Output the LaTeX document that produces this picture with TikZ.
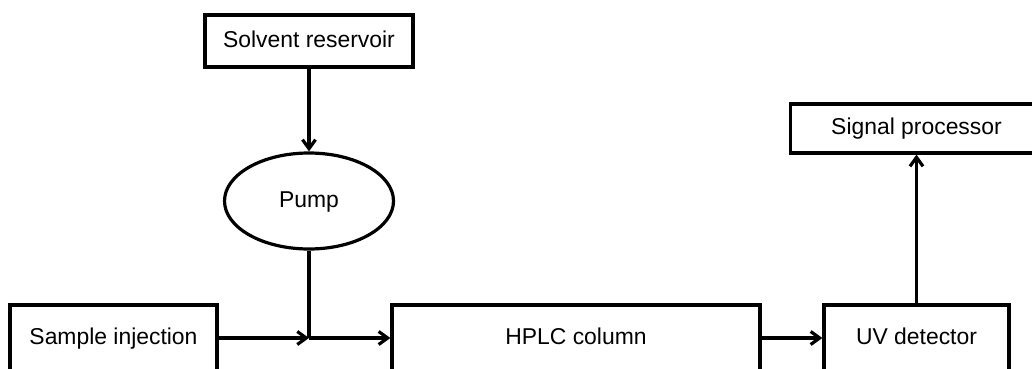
\documentclass[tikz,border=0pt]{standalone}
\usepackage{fontspec}
\setmainfont{Liberation Sans}
\usetikzlibrary{arrows.meta,positioning,shapes.geometric}
\tikzset{
  >={Straight Barb[length=9pt,width=13pt]},
  box/.style={draw,line width=3.2pt,rectangle,minimum height=52pt,inner sep=0pt,text height=16pt,text depth=4pt,font=\fontsize{22.9}{27}\selectfont,fill=white},
  ell/.style={box,ellipse,minimum width=169pt,minimum height=96pt},
  arr/.style={->,line width=3.2pt},
  pipe/.style={line width=3.2pt},
}
\begin{document}
\begin{tikzpicture}[x=1pt,y=1pt]
\useasboundingbox (0,0) rectangle (1032,368);
\node[box,minimum width=208pt] (res) at (309,327) {Solvent reservoir};
\node[ell] (pump) at (309,167) {Pump};
\node[box,minimum width=252pt,minimum height=49pt] (sig) at (916.5,239.5) {Signal processor};
% bottom row, cut by the page edge
\node[box,minimum width=207pt,minimum height=66pt] (inj) at (113.5,30) {Sample injection};
\node[box,minimum width=368pt,minimum height=66pt] (col) at (576,30) {HPLC column};
\node[box,minimum width=185pt,minimum height=66pt] (uv) at (916.5,30) {UV detector};
\coordinate (mix) at (pump.south |- inj.east);
\draw[arr] (res) -- (pump);
\draw[pipe] (pump) -- (mix);
\draw[arr] (inj) -- (mix);
\draw[arr] (mix) -- (col);
\draw[arr] (col) -- (uv);
\draw[arr] (uv) -- (sig);
\end{tikzpicture}
\end{document}
